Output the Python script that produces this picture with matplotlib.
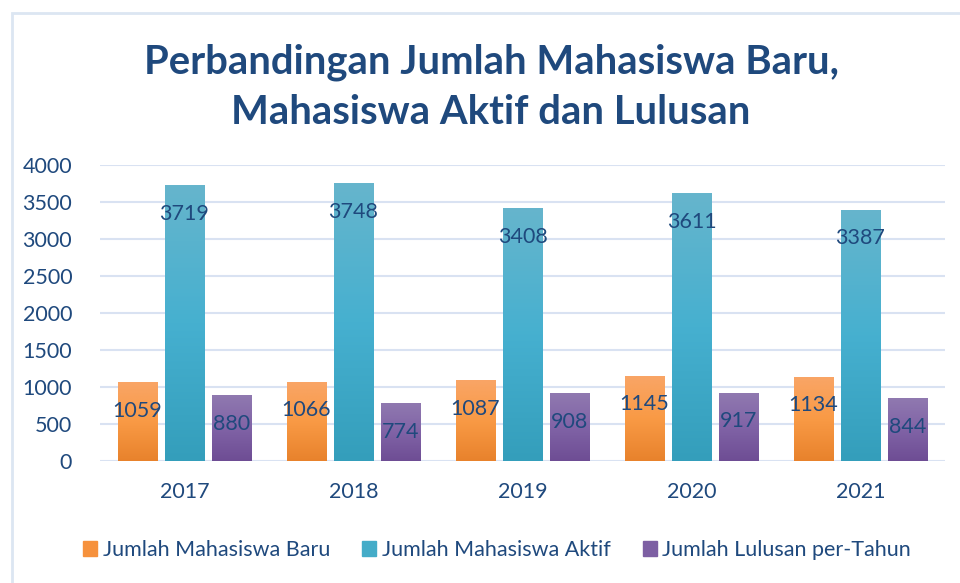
import numpy as np
import matplotlib
matplotlib.use("Agg")
import matplotlib.pyplot as plt
from matplotlib.colors import LinearSegmentedColormap
from matplotlib.patches import Rectangle

years = ["2017", "2018", "2019", "2020", "2021"]
mhs_baru = [1059, 1066, 1087, 1145, 1134]
mhs_aktif = [3719, 3748, 3408, 3611, 3387]
lulusan = [880, 774, 908, 917, 844]
series_names = ["Jumlah Mahasiswa Baru", "Jumlah Mahasiswa Aktif", "Jumlah Lulusan per-Tahun"]
y_ticks = [0, 500, 1000, 1500, 2000, 2500, 3000, 3500, 4000]

# gradient stops (top, middle, bottom) for each series
grads = [
    ["#F9A566", "#F99A45", "#E8822C"],
    ["#66B5CC", "#46B0D0", "#349EBB"],
    ["#9079B0", "#8063A6", "#6E4D94"],
]
legend_colors = ["#F6913C", "#44ACC8", "#7D5FA3"]
text_col = "#1F497D"
grid_col = "#D9E2F2"

plt.rcParams["font.family"] = ["Lato", "DejaVu Sans"]

fig = plt.figure(figsize=(9.6, 5.83), dpi=100)
ax = fig.add_axes([100 / 960, 1 - 461 / 583, 845 / 960, 296 / 583])

x = np.arange(len(years))
width = 0.232
step = 0.278
all_series = [mhs_baru, mhs_aktif, lulusan]

grad_img = np.linspace(0, 1, 256).reshape(-1, 1)
for i, vals in enumerate(all_series):
    cmap = LinearSegmentedColormap.from_list(f"g{i}", grads[i])
    pos = x + (i - 1) * step
    bars = ax.bar(pos, vals, width, color="none", zorder=3)
    for b, v in zip(bars, vals):
        x0 = b.get_x()
        ax.imshow(grad_img, cmap=cmap, aspect="auto", origin="upper",
                  extent=(x0, x0 + width, 0, v), zorder=3)
        ax.annotate(str(v), (x0 + width / 2, v), xytext=(0, -28),
                    textcoords="offset pixels",
                    ha="center", va="center", fontsize=15.5, color=text_col, zorder=4)

ax.set_xlim(-0.5, len(years) - 0.5)
ax.set_ylim(0, 4000)
ax.set_yticks(y_ticks)
ax.set_xticks(x)
ax.set_xticklabels(years)
ax.grid(axis="y", color=grid_col, linewidth=1.5, zorder=0)
ax.set_axisbelow(True)
for s in ax.spines.values():
    s.set_visible(False)
ax.tick_params(length=0, labelsize=15.5, colors=text_col)
ax.tick_params(axis="x", pad=15)
ax.tick_params(axis="y", pad=20)

fig.text(491 / 960, 1 - 62 / 583, "Perbandingan Jumlah Mahasiswa Baru,", ha="center", va="center",
         fontsize=28.8, fontweight="bold", color=text_col)
fig.text(491 / 960, 1 - 112 / 583, "Mahasiswa Aktif dan Lulusan", ha="center", va="center",
         fontsize=28.8, fontweight="bold", color=text_col)

handles = [Rectangle((0, 0), 1, 1, color=c) for c in legend_colors]
fig.legend(handles, series_names, loc="center", bbox_to_anchor=(497 / 960, 1 - 550 / 583),
           ncol=3, frameon=False, fontsize=15.5, labelcolor=text_col,
           handlelength=0.65, handleheight=0.65, handletextpad=0.25, columnspacing=1.5)

fig.add_artist(Rectangle((12 / 960, -0.01), 1.0, 1 - 13 / 583 + 0.01, transform=fig.transFigure,
                         fill=False, edgecolor="#DCE6F2", linewidth=2))

fig.savefig("out.png", dpi=100)
